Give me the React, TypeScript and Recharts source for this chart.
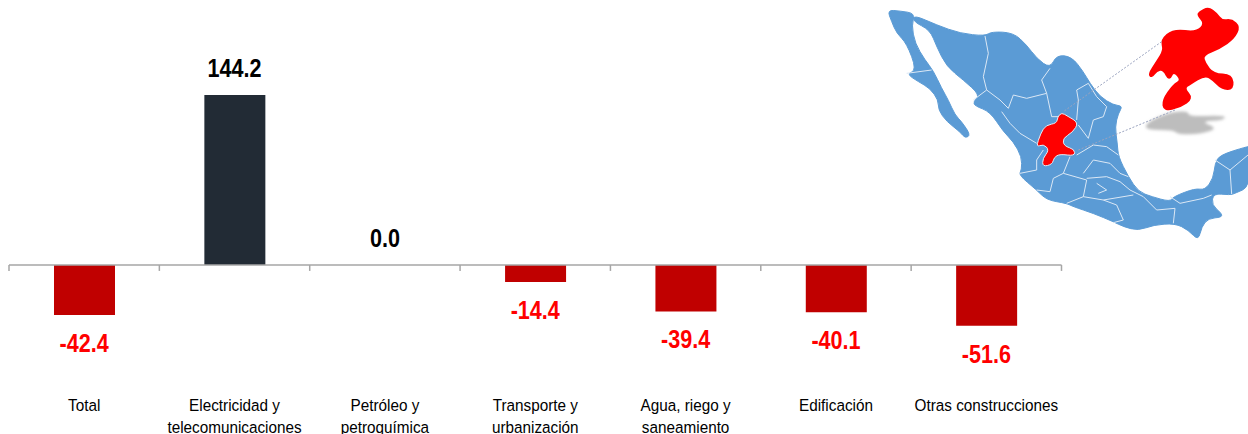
import React from 'react';
import { ComposedChart, Bar, Line, XAxis, YAxis, Cell, ReferenceLine } from 'recharts';

const categories = ['Total', 'Electricidad y telecomunicaciones', 'Petróleo y petroquímica', 'Transporte y urbanización', 'Agua, riego y saneamiento', 'Edificación', 'Otras construcciones'];
const categoryLines = [['Total'], ['Electricidad y', 'telecomunicaciones'], ['Petróleo y', 'petroquímica'], ['Transporte y', 'urbanización'], ['Agua, riego y', 'saneamiento'], ['Edificación'], ['Otras construcciones']];
const values = [-42.4, 144.2, 0.0, -14.4, -39.4, -40.1, -51.6];
const edges = [1, 2, 3, 4, 5, 6, 7];
const boundaries = [0, 1, 2, 3, 4, 5, 6, 7];

const data = categories.map((name, i) => ({ name, value: values[i], edge: edges[i] }));

const FONT = '"Liberation Sans", Arial, sans-serif';

type Pt = [number, number];

// hand traced map, in 3x crop coordinates of the top right corner
const baja: Pt[] = [[22, 30], [60, 33], [105, 40], [95, 75], [105, 130], [135, 180], [160, 212], [185, 265], [205, 300], [225, 345], [245, 365], [272, 405], [255, 415], [240, 395], [200, 365], [175, 330], [175, 300], [150, 265], [115, 245], [80, 222], [110, 210], [80, 130], [50, 100], [35, 65]];
const mainland: Pt[] = [[102, 45], [170, 75], [240, 100], [315, 108], [335, 95], [400, 98], [440, 135], [470, 175], [510, 205], [530, 165], [575, 170], [610, 215], [630, 250], [660, 290], [700, 315], [728, 318], [715, 340], [705, 380], [712, 430], [715, 470], [745, 530], [775, 575], [815, 590], [870, 605], [880, 590], [945, 565], [975, 570], [1000, 535], [1005, 490], [1020, 465], [1100, 440], [1110, 440], [1110, 560], [1065, 580], [1050, 585], [1000, 580], [995, 615], [1025, 640], [1025, 652], [985, 655], [965, 680], [955, 722], [925, 690], [885, 670], [820, 675], [775, 692], [730, 680], [700, 665], [640, 640], [580, 620], [560, 610], [500, 600], [470, 570], [416, 525], [425, 510], [425, 470], [400, 425], [370, 395], [330, 335], [285, 318], [280, 305], [300, 285], [250, 240], [200, 200], [170, 140], [150, 90], [100, 65]];
const borders: Pt[][] = [
  [[315, 108], [325, 160], [310, 230], [320, 270], [360, 300], [385, 325]],
  [[320, 270], [280, 300]],
  [[385, 325], [400, 285], [440, 295], [500, 280], [485, 240], [510, 205]],
  [[365, 335], [390, 370], [420, 400], [470, 430]],
  [[500, 280], [515, 350], [540, 350]],
  [[80, 220], [155, 210]],
  [[590, 360], [595, 300], [590, 270], [625, 250], [650, 290], [680, 320], [670, 350], [640, 360], [625, 415], [595, 375]],
  [[590, 465], [640, 435], [680, 440], [715, 465]],
  [[570, 470], [550, 520], [520, 535], [510, 575], [470, 570]],
  [[420, 520], [470, 510], [470, 480], [490, 450]],
  [[550, 520], [620, 540], [610, 590], [560, 610]],
  [[620, 535], [680, 530], [720, 545], [750, 570], [790, 590], [830, 630], [885, 625]],
  [[870, 590], [900, 610], [970, 595], [995, 585]],
  [[885, 625], [880, 670]],
  [[670, 600], [710, 615], [730, 660], [700, 668]],
  [[610, 590], [670, 600], [760, 585]],
  [[640, 480], [690, 490], [720, 520], [745, 530]],
  [[610, 520], [640, 480]],
  [[650, 550], [680, 570], [655, 580]],
  [[1005, 480], [1050, 510], [1104, 465]],
  [[1050, 510], [1055, 582]],
];
const zacatecas: Pt[] = [[545, 338], [562, 348], [596, 368], [578, 397], [548, 415], [552, 438], [584, 448], [584, 468], [540, 462], [522, 472], [517, 493], [488, 500], [488, 475], [508, 450], [490, 432], [468, 442], [482, 400], [498, 375], [530, 370], [533, 350]];
const zacatecasBig: Pt[] = [[958, 36], [985, 22], [1010, 40], [1025, 62], [1055, 58], [1079, 80], [1062, 115], [1020, 145], [968, 165], [975, 190], [1000, 222], [1056, 224], [1060, 268], [1025, 267], [1000, 240], [975, 225], [930, 252], [912, 265], [938, 295], [900, 322], [852, 332], [848, 300], [880, 255], [905, 240], [880, 212], [868, 242], [850, 208], [830, 212], [815, 232], [806, 222], [830, 185], [852, 150], [843, 120], [880, 88], [950, 97], [975, 70], [953, 46]];
const shadow: Pt[] = [[795, 372], [860, 338], [925, 332], [925, 350], [1037, 346], [1032, 360], [960, 365], [1015, 385], [960, 403], [895, 403], [880, 390], [800, 390]];

// rounds the traced corners off
const toSmooth = (pts: Pt[]) => {
  const mid = (a: Pt, b: Pt) => `${(a[0] + b[0]) / 2} ${(a[1] + b[1]) / 2}`;
  let d = 'M' + mid(pts[pts.length - 1], pts[0]);
  pts.forEach((p, i) => {
    d += `Q${p[0]} ${p[1]} ${mid(p, pts[(i + 1) % pts.length])}`;
  });
  return d + 'Z';
};
const toLine = (pts: Pt[]) => pts.map(p => p.join(',')).join(' ');

function MapInset() {
  return (
    <svg width={368} height={250} viewBox="0 0 1104 750" style={{ position: 'absolute', left: 880, top: 0 }}>
      <defs>
        <filter id="soft"><feGaussianBlur stdDeviation="5" /></filter>
      </defs>
      <path d={toSmooth(shadow)} fill="#bdbdbd" filter="url(#soft)" />
      <path d={toSmooth(baja)} fill="#5B9BD5" stroke="#5B9BD5" strokeWidth={3} />
      <path d={toSmooth(mainland)} fill="#5B9BD5" stroke="#5B9BD5" strokeWidth={3} />
      {borders.map((b, i) => (
        <polyline key={i} points={toLine(b)} fill="none" stroke="#dbe8f5" strokeWidth={3} strokeLinejoin="round" />
      ))}
      <path d={toSmooth(zacatecas)} fill="#FF0000" stroke="#e4eef8" strokeWidth={3} />
      <path d={toSmooth(zacatecasBig)} fill="#FF0000" stroke="#FF0000" strokeWidth={5} strokeLinejoin="round" />
      <line x1={845} y1={125} x2={550} y2={335} stroke="#9aa3bf" strokeWidth={3} strokeDasharray="6 5" />
      <line x1={885} y1={330} x2={595} y2={450} stroke="#9aa3bf" strokeWidth={3} strokeDasharray="6 5" />
    </svg>
  );
}

function CategoryTick({ x, y, payload }: any) {
  const lines = categoryLines[payload.index] || [payload.value];
  return (
    <g>
      {lines.map((l: string, i: number) => (
        <text
          key={i}
          transform={`translate(${x} ${y + 13 + i * 22}) scale(0.9 1)`}
          textAnchor="middle"
          fontFamily={FONT}
          fontSize={17}
          fill="#000"
        >
          {l}
        </text>
      ))}
    </g>
  );
}

function ValueLabel({ x, y, value }: any) {
  const neg = value < 0;
  return (
    <text
      transform={`translate(${x} ${y + (neg ? 37 : -18)}) scale(0.83 1)`}
      textAnchor="middle"
      fontFamily={FONT}
      fontWeight="bold"
      fontSize={26}
      fill={neg ? '#FF0000' : '#000'}
    >
      {value.toFixed(1)}
    </text>
  );
}

export default function App() {
  return (
    <div style={{ position: 'absolute', left: 0, top: 0, width: 1248, height: 434, overflow: 'hidden', background: '#fff' }}>
      <ComposedChart width={1248} height={434} data={data} margin={{ top: 0, right: 186.5, bottom: 0, left: 9 }} barSize={61}>
        <XAxis dataKey="name" height={44} axisLine={false} tickLine={false} interval={0} tick={<CategoryTick />} />
        <XAxis xAxisId="edges" dataKey="edge" type="number" domain={[0, 7]} allowDataOverflow hide />
        <YAxis hide domain={[-106, 224.8]} allowDataOverflow />
        <Bar dataKey="value" isAnimationActive={false}>
          {values.map((v, i) => (
            <Cell key={i} fill={v < 0 ? '#C00000' : '#222B35'} />
          ))}
        </Bar>
        {/* zero height bars get no label, so the labels hang on an invisible line */}
        <Line dataKey="value" stroke="none" dot={false} activeDot={false} isAnimationActive={false} label={<ValueLabel />} />
        <ReferenceLine y={0} stroke="#a6a6a6" strokeWidth={1.5} />
        {boundaries.map(b => (
          <ReferenceLine
            key={b}
            xAxisId="edges"
            stroke="#a6a6a6"
            strokeWidth={1.5}
            segment={[{ x: b, y: 0 }, { x: b, y: -5 }]}
          />
        ))}
      </ComposedChart>
      <MapInset />
    </div>
  );
}
